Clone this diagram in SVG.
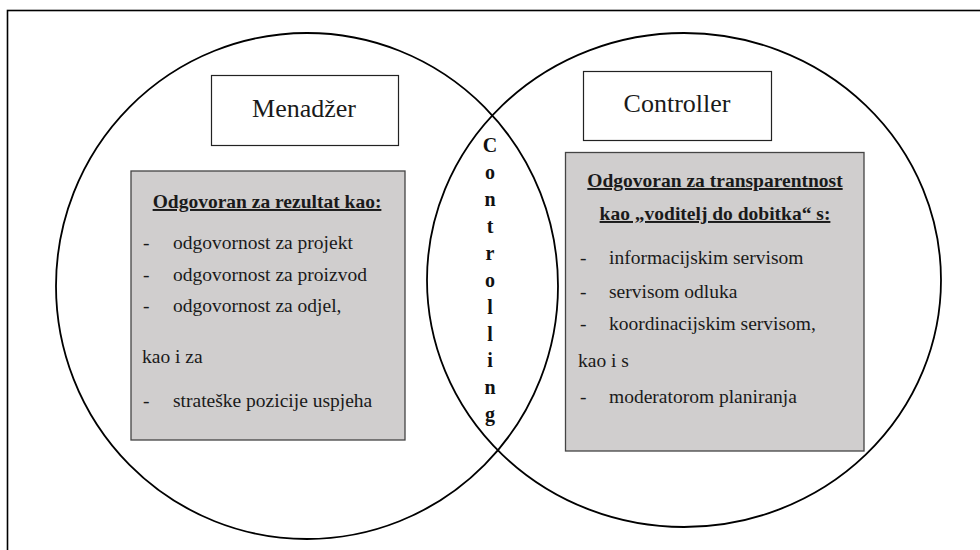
<svg xmlns="http://www.w3.org/2000/svg" width="980" height="550" viewBox="0 0 980 550" font-family="'Liberation Serif', 'DejaVu Serif', serif">
<style>
  .frame{fill:none;stroke:#000;stroke-width:1.6}
  .circ{fill:none;stroke:#000;stroke-width:1.8}
  .title{fill:#fff;stroke:#222;stroke-width:1.2}
  .panel{fill:#d0cece;stroke:#444;stroke-width:1.3}
  .txt{font-family:'Liberation Serif', 'DejaVu Serif', serif;fill:#1a1a1a}
  .t26{font-size:26px}
  .hdr{font-size:19.5px;font-weight:bold;text-decoration:underline}
  .item{font-size:19.5px}
  .vert{font-size:20px;font-weight:bold;fill:#111}
</style>
<rect x="0" y="0" width="980" height="550" fill="#fff"/>
<rect class="frame" x="7.5" y="10.5" width="1000" height="600"/>

<g id="connectors">
  <ellipse id="left-circle" class="circ" cx="307" cy="286" rx="251" ry="253"/>
  <ellipse id="right-circle" class="circ" cx="684" cy="280" rx="257" ry="247"/>
</g>

<g id="menadzer" class="txt">
  <rect class="title" x="211.5" y="75.5" width="187" height="70"/>
  <text class="t26" x="304" y="117" text-anchor="middle">Menadžer</text>
</g>

<g id="controller" class="txt">
  <rect class="title" x="583.5" y="71.5" width="188" height="69"/>
  <text class="t26" x="677" y="112" text-anchor="middle">Controller</text>
</g>

<g id="menadzer-box" class="txt">
  <rect class="panel" x="131" y="171" width="274" height="269"/>
  <text class="hdr" x="267" y="208" text-anchor="middle">Odgovoran za rezultat kao:</text>
  <text class="item" x="143" y="249">-</text>
  <text class="item" x="173" y="249">odgovornost za projekt</text>
  <text class="item" x="143" y="281">-</text>
  <text class="item" x="173" y="281">odgovornost za proizvod</text>
  <text class="item" x="143" y="312">-</text>
  <text class="item" x="173" y="312">odgovornost za odjel,</text>
  <text class="item" x="142" y="363">kao i za</text>
  <text class="item" x="143" y="407">-</text>
  <text class="item" x="173" y="407">strateške pozicije uspjeha</text>
</g>

<g id="controller-box" class="txt">
  <rect class="panel" x="565.5" y="152.5" width="298.5" height="298.5"/>
  <text class="hdr" x="715" y="187" text-anchor="middle">Odgovoran za transparentnost</text>
  <text class="hdr" x="715" y="220" text-anchor="middle">kao „voditelj do dobitka“ s:</text>
  <text class="item" x="580" y="264">-</text>
  <text class="item" x="609" y="264">informacijskim servisom</text>
  <text class="item" x="580" y="298">-</text>
  <text class="item" x="609" y="298">servisom odluka</text>
  <text class="item" x="580" y="330">-</text>
  <text class="item" x="609" y="330">koordinacijskim servisom,</text>
  <text class="item" x="578" y="367">kao i s</text>
  <text class="item" x="580" y="403">-</text>
  <text class="item" x="609" y="403">moderatorom planiranja</text>
</g>

<g id="controlling" class="txt" text-anchor="middle">
  <text class="vert" x="490" y="152">C</text>
  <text class="vert" x="490" y="179">o</text>
  <text class="vert" x="490" y="206">n</text>
  <text class="vert" x="490" y="233">t</text>
  <text class="vert" x="490" y="260">r</text>
  <text class="vert" x="490" y="287">o</text>
  <text class="vert" x="490" y="314">l</text>
  <text class="vert" x="490" y="341">l</text>
  <text class="vert" x="490" y="367">i</text>
  <text class="vert" x="490" y="394">n</text>
  <text class="vert" x="490" y="421">g</text>
</g>
</svg>
